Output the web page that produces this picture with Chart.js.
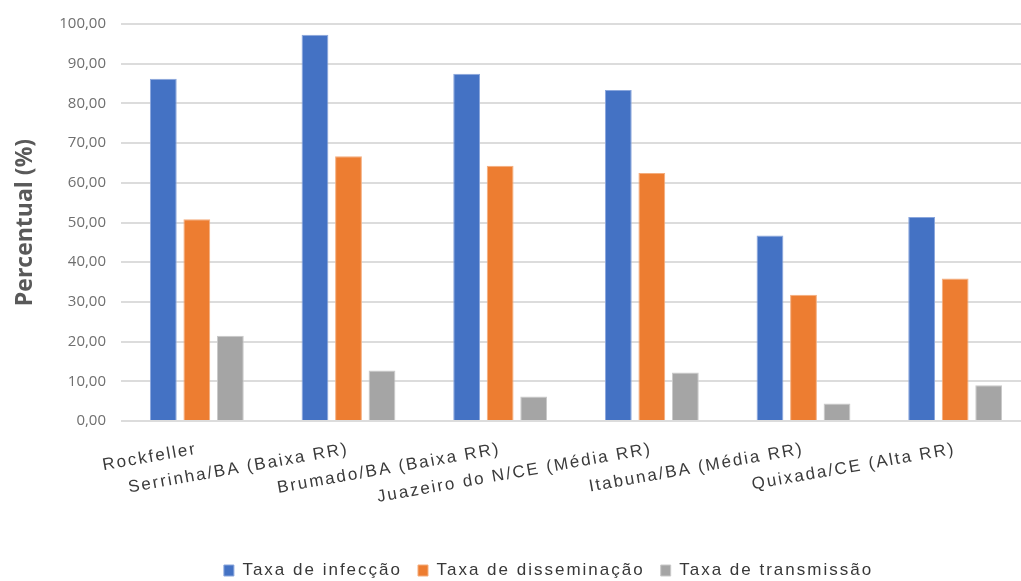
<!DOCTYPE html>
<html lang="pt-BR">
<head>
<meta charset="utf-8">
<title>Taxas de infecção, disseminação e transmissão</title>
<script src="https://cdn.jsdelivr.net/npm/chart.js@4.4.1/dist/chart.umd.min.js"></script>
<style>
  html, body { margin: 0; padding: 0; background: #ffffff; overflow: hidden; }
  #wrap { position: relative; width: 1095px; height: 581px; }
</style>
</head>
<body>
<div id="wrap"><canvas id="chart"></canvas></div>
<script>
// Populações testadas
const categories = [
  'Rockfeller',
  'Serrinha/BA (Baixa RR)',
  'Brumado/BA (Baixa RR)',
  'Juazeiro do N/CE (Média RR)',
  'Itabuna/BA (Média RR)',
  'Quixada/CE (Alta RR)'
];

// Percentuais por população
const infeccao     = [86.2, 97.3, 87.5, 83.4, 46.7, 51.4];
const disseminacao = [50.8, 66.7, 64.3, 62.5, 31.8, 35.9];
const transmissao  = [21.5, 12.7, 6.2, 12.2, 4.4, 9.0];

// Rótulos do eixo Y
const yTickLabels = ['0,00', '10,00', '20,00', '30,00', '40,00', '50,00',
                     '60,00', '70,00', '80,00', '90,00', '100,00'];

const seriesNames = ['Taxa de infecção', 'Taxa de disseminação', 'Taxa de transmissão'];

// Espaçamento extra entre letras nos rótulos das categorias e na legenda
const LETTER_SPACING = '2px';

function withSpacing(obj, methods) {
  if (!obj || obj.__spaced) return;
  obj.__spaced = true;
  methods.forEach(name => {
    const original = obj[name];
    obj[name] = function (...args) {
      const ctx = this.ctx;
      const prev = ctx.letterSpacing;
      ctx.letterSpacing = LETTER_SPACING;
      try { return original.apply(this, args); }
      finally { ctx.letterSpacing = prev || '0px'; }
    };
  });
}

// Legenda deslocada para a direita e para baixo
const LEGEND_SHIFT_X = 27;
const LEGEND_SHIFT_Y = 8;

const spacedText = {
  id: 'spacedText',
  beforeLayout(chart) {
    withSpacing(chart.scales.x, ['update', 'drawLabels']);
    withSpacing(chart.legend, ['update', 'draw']);
  },
  afterLayout(chart) {
    const lg = chart.legend;
    if (!lg) return;
    lg.left += LEGEND_SHIFT_X;
    lg.right += LEGEND_SHIFT_X;
    lg.top += LEGEND_SHIFT_Y;
    lg.bottom += LEGEND_SHIFT_Y;
  }
};

const ctx = document.getElementById('chart');
new Chart(ctx, {
  type: 'bar',
  data: {
    labels: categories,
    datasets: [
      {
        label: seriesNames[0],
        data: infeccao,
        backgroundColor: '#4472C4',
        borderColor: '#8aa6dc',
        borderWidth: 1
      },
      {
        label: seriesNames[1],
        data: disseminacao,
        backgroundColor: '#ED7D31',
        borderColor: '#f4ad7d',
        borderWidth: 1
      },
      {
        label: seriesNames[2],
        data: transmissao,
        backgroundColor: '#A5A5A5',
        borderColor: '#c9c9c9',
        borderWidth: 1
      }
    ]
  },
  options: {
    responsive: true,
    maintainAspectRatio: false,
    animation: false,
    events: [],
    categoryPercentage: 0.663,
    barPercentage: 0.8,
    layout: {
      padding: { left: 12, right: 64, top: 17, bottom: 0 }
    },
    plugins: {
      tooltip: { enabled: false },
      legend: {
        position: 'bottom',
        labels: {
          boxWidth: 10,
          boxHeight: 11,
          padding: 16,
          color: '#383838',
          font: { family: '"Liberation Sans", Arial, sans-serif', size: 17 }
        }
      }
    },
    scales: {
      x: {
        grid: { display: false, drawTicks: false },
        border: { display: false },
        ticks: {
          autoSkip: false,
          minRotation: 10,
          maxRotation: 10,
          padding: 18,
          color: '#3a3a3a',
          font: { family: '"Liberation Sans", Arial, sans-serif', size: 17 }
        },
        afterFit(scale) {
          scale.height = 117;
          scale.paddingLeft = 0;
          scale.paddingRight = 0;
        }
      },
      y: {
        min: 0,
        max: 100,
        ticks: {
          stepSize: 10,
          padding: 15,
          color: '#6f6f6f',
          font: { family: '"Open Sans", sans-serif', size: 15 },
          callback: (value, index) => yTickLabels[index]
        },
        grid: {
          color: '#dcdcdc',
          lineWidth: 2,
          drawTicks: false
        },
        border: { display: false },
        title: {
          display: true,
          text: 'Percentual (%)',
          color: '#595959',
          padding: { top: 0, bottom: 20 },
          font: { family: '"Open Sans", sans-serif', size: 23, weight: 'bold' }
        },
        afterFit(scale) {
          scale.width = 109;
        }
      }
    }
  },
  plugins: [spacedText]
});
</script>
</body>
</html>
